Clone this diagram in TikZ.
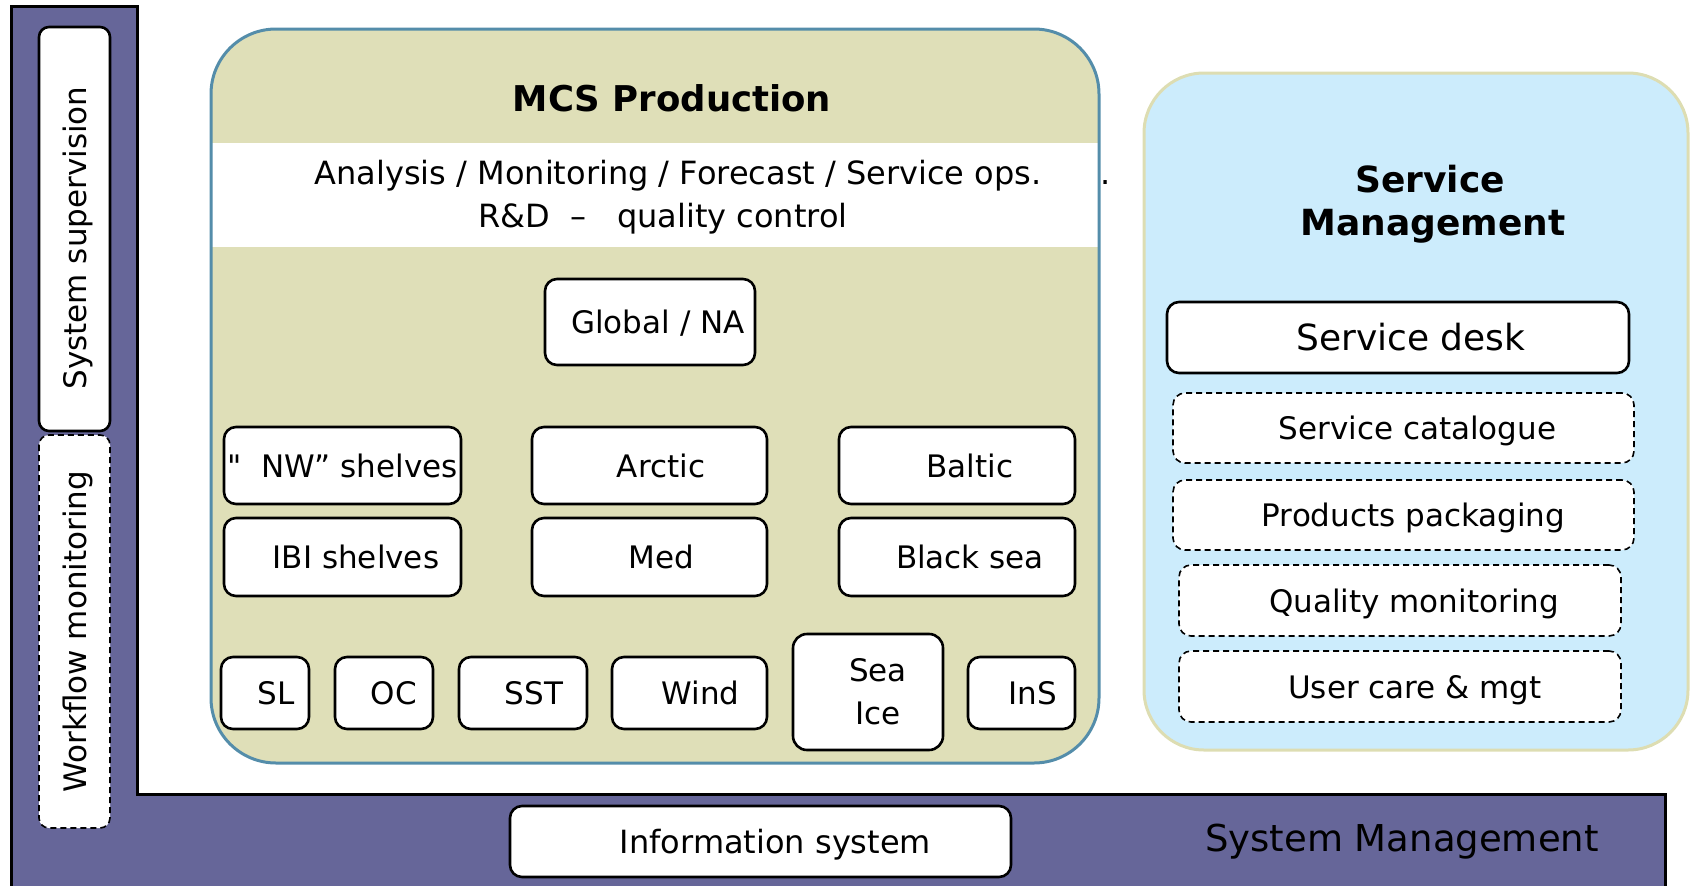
\documentclass[tikz,border=0pt]{standalone}
\usepackage{fontspec}
\setmainfont{DejaVu Sans}
\definecolor{sysP}{RGB}{102,102,153}
\definecolor{mcsFill}{RGB}{223,223,184}
\definecolor{mcsLine}{RGB}{84,141,170}
\definecolor{smFill}{RGB}{204,236,252}
\definecolor{smLine}{RGB}{221,221,178}
\begin{document}
\begin{tikzpicture}[x=1pt,y=-1pt,
  box/.style={draw=black,line width=2.6pt,fill=white,rounded corners=12pt,inner sep=0pt,
    text height=23pt,text depth=0pt,font=\fontsize{31}{37}\selectfont},
  dbox/.style={draw=black,line width=1.6pt,dash pattern=on 6pt off 4pt,fill=white,
    rounded corners=12pt,inner sep=0pt,text height=23pt,text depth=0pt,font=\fontsize{31}{37}\selectfont},
  txt/.style={inner sep=0pt,font=\fontsize{32}{38}\selectfont}]
\useasboundingbox (0,0) rectangle (1690,886);
% system management L-shape
\fill[sysP] (11,6) -- (137,6) -- (137,794) -- (1665,794) -- (1665,886) -- (11,886) -- cycle;
\draw[line width=3pt] (11,886) -- (11,6) -- (137,6) -- (137,794) -- (1665,794) -- (1665,886);
% left bar boxes
\node[box,rotate=90,minimum width=404pt,minimum height=71pt,rounded corners=10pt] (sup) at (74.5,229) {System supervision\hspace*{18pt}};
\node[dbox,rotate=90,minimum width=393pt,minimum height=71pt,rounded corners=10pt] (wf) at (74.5,631.5) {Workflow monitoring};
% MCS production container
\fill[mcsFill,rounded corners=65pt] (211,29) rectangle (1099,763);
\fill[white] (212,143) rectangle (1098,247);
\draw[mcsLine,line width=3pt,rounded corners=65pt] (211,29) rectangle (1099,763);
\node[inner sep=0pt,anchor=base,font=\bfseries\fontsize{35.5}{42}\selectfont] (mcsT) at (672,111) {MCS Production};
\node[txt,anchor=base] (ana) at (678,184) {Analysis / Monitoring / Forecast / Service ops.};
\node[txt,anchor=base] (rd) at (663,227) {R\&D \ –\ \ \ quality control};
\node[txt,anchor=base] (dot) at (1106,184) {.};
% production boxes
\node[box,minimum width=210pt,minimum height=86pt] (glob) at (650,322) {\hspace*{16pt}Global / NA};
\node[box,minimum width=237pt,minimum height=77pt] (nw) at (342.5,465.5) {\textquotedbl\ \ NW” shelves};
\node[box,minimum width=235pt,minimum height=77pt] (arc) at (649.5,465.5) {\hspace*{23pt}Arctic};
\node[box,minimum width=236pt,minimum height=77pt] (bal) at (957,465.5) {\hspace*{26pt}Baltic};
\node[box,minimum width=237pt,minimum height=78pt] (ibi) at (342.5,557) {\hspace*{27pt}IBI shelves};
\node[box,minimum width=235pt,minimum height=78pt] (med) at (649.5,557) {\hspace*{23pt}Med};
\node[box,minimum width=236pt,minimum height=78pt] (blk) at (957,557) {\hspace*{26pt}Black sea};
\node[box,minimum width=88pt,minimum height=72pt] (sl) at (265,693) {\hspace*{22pt}SL};
\node[box,minimum width=98pt,minimum height=72pt] (oc) at (384,693) {\hspace*{20pt}OC};
\node[box,minimum width=128pt,minimum height=72pt] (sst) at (523,693) {\hspace*{22pt}SST};
\node[box,minimum width=155pt,minimum height=72pt] (wind) at (689.5,693) {\hspace*{22pt}Wind};
\node[draw=black,line width=2.6pt,fill=white,rounded corners=14pt,inner sep=0pt,align=center,
  font=\fontsize{31}{43}\selectfont,minimum width=150pt,minimum height=116pt] (ice) at (868,692)
  {\hspace*{20pt}Sea\\\hspace*{20pt}Ice};
\node[box,minimum width=107pt,minimum height=72pt] (ins) at (1021.5,693) {\hspace*{22pt}InS};
% service management container
\draw[smLine,line width=3pt,fill=smFill,rounded corners=60pt] (1144,73) rectangle (1688,750);
\node[inner sep=0pt,anchor=base,font=\bfseries\fontsize{36}{43}\selectfont] (smT1) at (1430,192) {Service};
\node[inner sep=0pt,anchor=base,font=\bfseries\fontsize{36}{43}\selectfont] (smT2) at (1433,235) {Management};
\node[box,minimum width=462pt,minimum height=71pt,font=\fontsize{36}{40}\selectfont,text height=26pt] (desk) at (1398,337.5) {\hspace*{26pt}Service desk};
\node[dbox,minimum width=461pt,minimum height=70pt] (cat) at (1403.5,428) {\hspace*{28pt}Service catalogue};
\node[dbox,minimum width=461pt,minimum height=70pt] (pack) at (1403.5,515) {\hspace*{20pt}Products packaging};
\node[dbox,minimum width=442pt,minimum height=71pt] (qual) at (1400,600.5) {\hspace*{28pt}Quality monitoring};
\node[dbox,minimum width=442pt,minimum height=71pt] (user) at (1400,686.5) {\hspace*{30pt}User care \& mgt};
% bottom
\node[box,minimum width=501pt,minimum height=71pt,font=\fontsize{32}{38}\selectfont] (info) at (760.5,841.5) {\hspace*{30pt}Information system};
\node[inner sep=0pt,anchor=base,font=\fontsize{37}{44}\selectfont] (sysM) at (1402,851) {System Management};
\end{tikzpicture}
\end{document}
